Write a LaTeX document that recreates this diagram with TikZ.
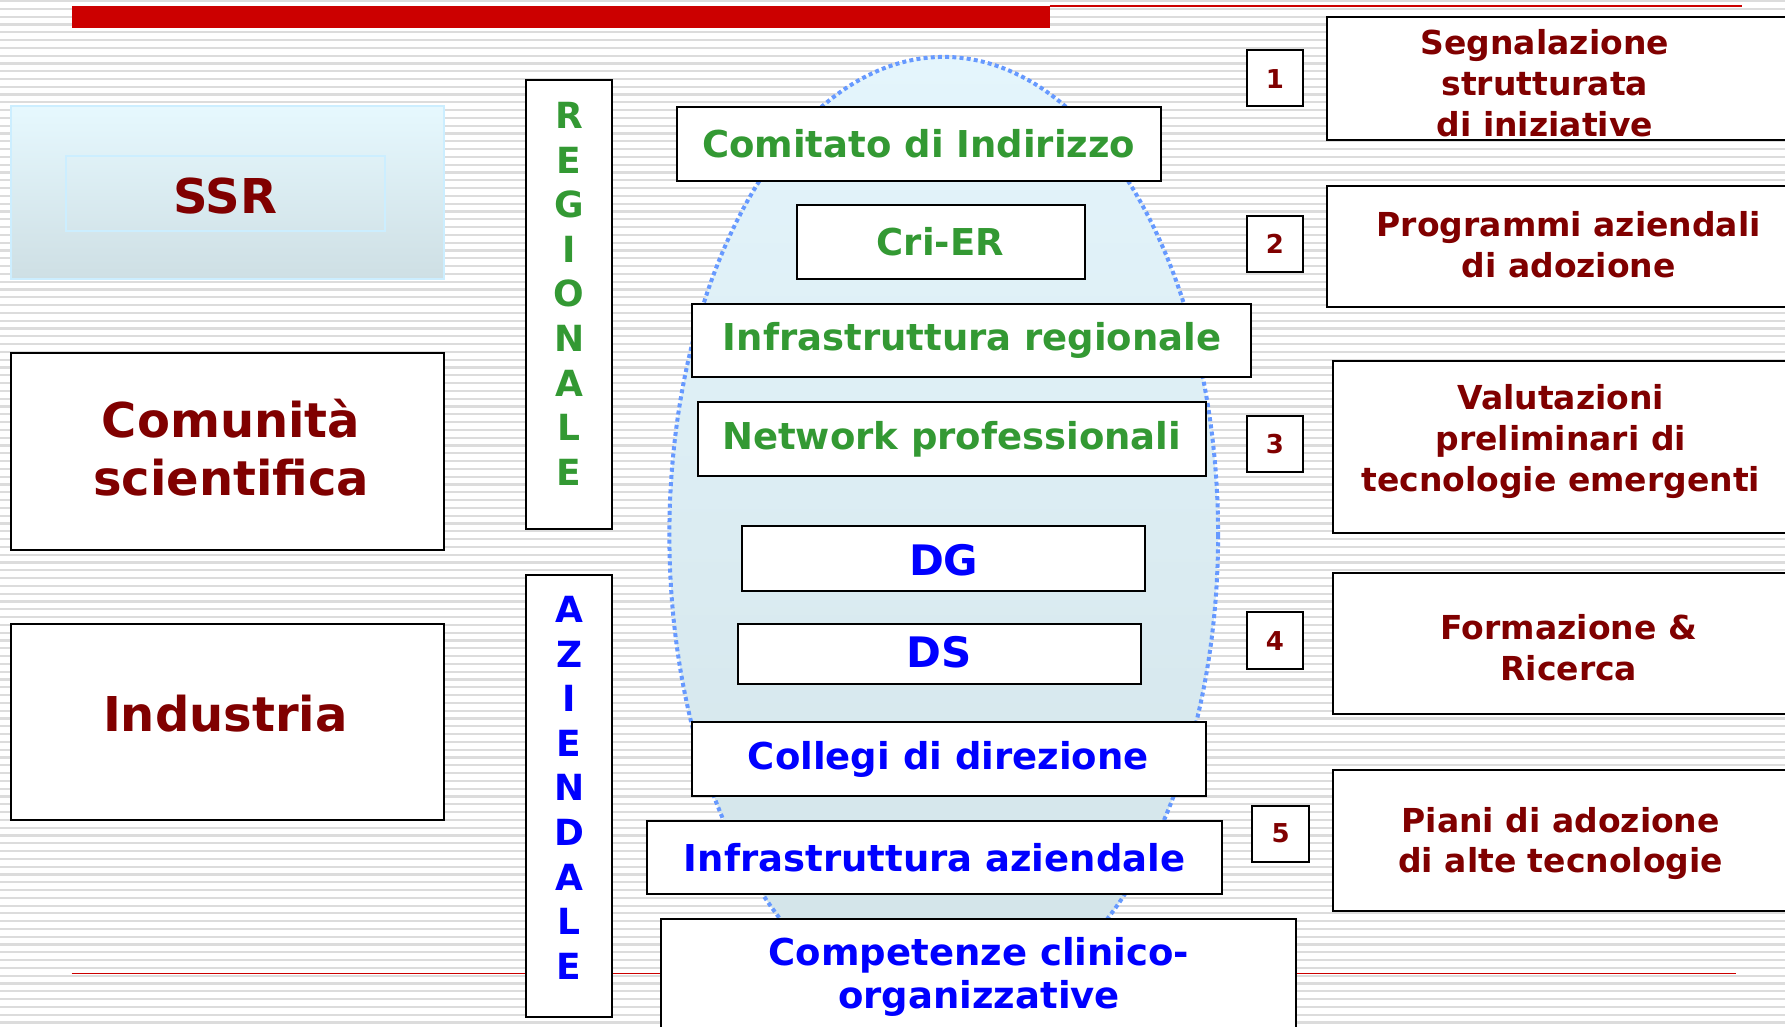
\documentclass[tikz,border=0pt]{standalone}
\usepackage{fontspec}
\setmainfont{DejaVu Sans}
\usetikzlibrary{calc}
\definecolor{darkred}{HTML}{800000}
\definecolor{regreen}{HTML}{339933}
\definecolor{azblue}{HTML}{0000FF}
\definecolor{barred}{HTML}{CC0000}
\definecolor{dotblue}{HTML}{6699FF}
\definecolor{stripegray}{HTML}{DCDCDC}
\definecolor{ssrtop}{HTML}{E6F8FE}
\definecolor{ssrbottom}{HTML}{CEDFE4}
\definecolor{ssrborder}{HTML}{CCEEFF}
\definecolor{elltop}{HTML}{E4F5FC}
\definecolor{ellbottom}{HTML}{D2E3E8}
\tikzset{
	box/.style={draw=black, fill=white, line width=1pt},
	stripe/.style={stripegray, line width=1.1pt},
	greenlabel/.style={text=regreen, font=\bfseries\fontsize{18.5}{22}\selectfont},
	bluelabel/.style={text=azblue, font=\bfseries\fontsize{18.5}{21.5}\selectfont, align=center},
	redlabel/.style={text=darkred, font=\bfseries\fontsize{16.5}{20.4}\selectfont, align=center},
	biglabel/.style={text=darkred, font=\bfseries\fontsize{24}{29}\selectfont, align=center},
	numlabel/.style={text=darkred, font=\bfseries\fontsize{13}{15}\selectfont},
	letters/.style={font=\bfseries\fontsize{18}{22.3}\selectfont, align=center}
}

\begin{document}
\begin{tikzpicture}[x=0.02cm, y=-0.02cm]
			%%%%% START %%%%%
			
			\useasboundingbox (0,0) rectangle (1568,902);
			\clip (0,0) rectangle (1568,902);
			\fill[white] (0,0) rectangle (1568,902);
			\foreach \y in {0.9,7.75,...,902}
				\draw[stripe] (0,\y) -- (1568,\y);
			
			\fill[barred] (63,5) rectangle (922,25);
			\draw[barred, line width=0.9pt] (922,5.5) -- (1530,5.5);
			\draw[barred, line width=0.8pt] (63,855) -- (1525,855);
			
			\shadedraw[top color=ssrtop, bottom color=ssrbottom, draw=ssrborder, line width=1pt] (10,93) rectangle (390,245);
			\draw[ssrborder, line width=0.8pt] (58,137) rectangle (338,203);
			\node[biglabel] (ssr) at (198,172) {SSR};
			
			\draw[box] (10,310) rectangle (390,483);
			\node[biglabel] (comunita) at (203,393) {Comunità\\scientifica};
			
			\draw[box] (10,548) rectangle (390,720);
			\node[biglabel] (industria) at (198,627) {Industria};
			
			\draw[box] (462,70) rectangle (538,465);
			\node[letters, text=regreen] (regionale) at (500,258) {R\\E\\G\\I\\O\\N\\A\\L\\E};
			
			\draw[box] (462,505) rectangle (538,893);
			\node[letters, text=azblue] (aziendale) at (500,692) {A\\Z\\I\\E\\N\\D\\A\\L\\E};
			
			\shadedraw[top color=elltop, bottom color=ellbottom, draw=dotblue, line width=2pt, dash pattern=on 2pt off 1.6pt] (829,470) ellipse [x radius=241, y radius=420];
			
			\draw[box] (595,94) rectangle (1020,159);
			\node[greenlabel] (comitato) at (807,126) {Comitato di Indirizzo};
			
			\draw[box] (700,180) rectangle (953,245);
			\node[greenlabel] (crier) at (826,212) {Cri-ER};
			
			\draw[box] (608,267) rectangle (1099,331);
			\node[greenlabel] (infreg) at (854,299) {Infrastruttura regionale};
			
			\draw[box] (613,353) rectangle (1059,418);
			\node[greenlabel] (network) at (836,386) {Network professionali};
			
			\draw[box] (652,462) rectangle (1006,519);
			\node[bluelabel, font=\bfseries\fontsize{21}{24}\selectfont] (dg) at (829,492) {DG};
			
			\draw[box] (648,548) rectangle (1002,601);
			\node[bluelabel, font=\bfseries\fontsize{21}{24}\selectfont] (ds) at (825,573) {DS};
			
			\draw[box] (608,634) rectangle (1059,699);
			\node[bluelabel] (collegi) at (833,667) {Collegi di direzione};
			
			\draw[box] (568,721) rectangle (1073,785);
			\node[bluelabel] (infaz) at (821,753) {Infrastruttura aziendale};
			
			\draw[box] (581,807) rectangle (1138,910);
			\node[bluelabel] (competenze) at (860,858) {Competenze clinico-\\organizzative};
			
			% numeri
			\draw[box] (1095,44) rectangle (1145,93);
			\node[numlabel] (num1) at (1120,69) {1};
			\draw[box] (1095,190) rectangle (1145,239);
			\node[numlabel] (num2) at (1120,214) {2};
			\draw[box] (1095,365) rectangle (1145,415);
			\node[numlabel] (num3) at (1120,390) {3};
			\draw[box] (1095,538) rectangle (1145,588);
			\node[numlabel] (num4) at (1120,563) {4};
			\draw[box] (1100,708) rectangle (1150,757);
			\node[numlabel] (num5) at (1125,732) {5};
			
			\draw[box] (1166,15) rectangle (1600,123);
			\node[redlabel] (segnal) at (1357,73) {Segnalazione\\strutturata\\di iniziative};
			
			\draw[box] (1166,163) rectangle (1600,270);
			\node[redlabel] (programmi) at (1378,215) {Programmi aziendali\\di adozione};
			
			\draw[box] (1171,317) rectangle (1600,468);
			\node[redlabel] (valutaz) at (1371,388) {Valutazioni\\preliminari di\\tecnologie emergenti};
			
			\draw[box] (1171,503) rectangle (1600,627);
			\node[redlabel] (formaz) at (1378,569) {Formazione \&\\Ricerca};
			
			\draw[box] (1171,676) rectangle (1600,800);
			\node[redlabel] (piani) at (1371,741) {Piani di adozione\\di alte tecnologie};
			
			%%%%% END %%%%%
\end{tikzpicture}
\end{document}
